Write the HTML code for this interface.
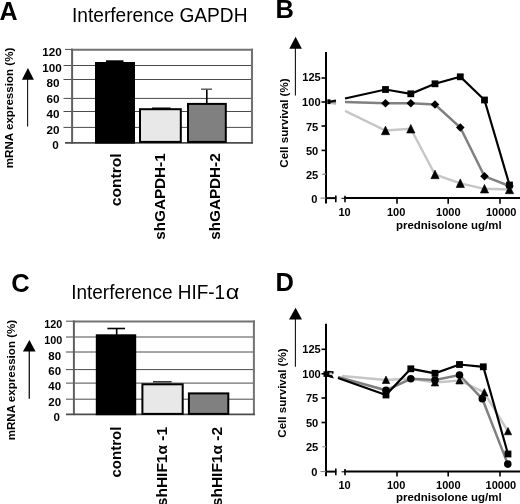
<!DOCTYPE html>
<html><head><meta charset="utf-8"><title>Figure</title>
<style>
html,body{margin:0;padding:0;background:#fff;}
svg{display:block;filter:grayscale(1);}
text{font-family:"Liberation Sans",sans-serif;fill:#000;}
.b{font-weight:bold;}
.tk{font-weight:bold;font-size:11.1px;text-anchor:end;}
.tx{font-weight:bold;font-size:11px;text-anchor:middle;}
</style></head><body>
<svg width="520" height="504" viewBox="0 0 520 504">
<rect width="520" height="504" fill="#fff"/>

<!-- ================= Panel A ================= -->
<text class="b" x="-0.4" y="19.9" font-size="25">A</text>
<text x="72" y="22.3" font-size="20" textLength="175.5" lengthAdjust="spacingAndGlyphs">Interference GAPDH</text>
<g stroke="#4c4c4c" stroke-width="1" fill="none">
  <line x1="63.5" y1="65.5" x2="252.5" y2="65.5"/>
  <line x1="63.5" y1="79.5" x2="252.5" y2="79.5"/>
  <line x1="63.5" y1="98.4" x2="252.5" y2="98.4"/>
  <line x1="63.5" y1="111.5" x2="252.5" y2="111.5"/>
  <line x1="63.5" y1="127.4" x2="252.5" y2="127.4"/>
</g>
<g fill="none">
  <line x1="71.1" y1="49.7" x2="253" y2="49.7" stroke="#727272" stroke-width="2"/>
  <line x1="65" y1="49.4" x2="72" y2="49.4" stroke="#4c4c4c" stroke-width="1"/>
  <line x1="252" y1="48.7" x2="252" y2="143.6" stroke="#727272" stroke-width="2.1"/>
  <line x1="72.1" y1="48.7" x2="72.1" y2="143.6" stroke="#606060" stroke-width="2"/>
  <line x1="65" y1="142.8" x2="253" y2="142.8" stroke="#4c4c4c" stroke-width="1.8"/>
</g>
<g class="tk" style="font-size:11.7px">
  <text x="61.8" y="56.4">120</text>
  <text x="61.8" y="71.7">100</text>
  <text x="59.4" y="87.4">80</text>
  <text x="59.4" y="102.8">60</text>
  <text x="59.4" y="118.2">40</text>
  <text x="59.4" y="134.1">20</text>
  <text x="58.7" y="149.1">0</text>
</g>
<!-- bars -->
<rect x="95" y="62" width="40" height="81.6" fill="#000"/>
<rect x="106" y="60.3" width="17.5" height="2" fill="#000"/>
<rect x="140" y="109.2" width="40.8" height="32.7" fill="#e8e8e8" stroke="#000" stroke-width="2"/>
<rect x="152" y="107.5" width="18.6" height="1.4" fill="#000"/>
<rect x="188" y="103.9" width="37.8" height="38" fill="#808080" stroke="#000" stroke-width="2"/>
<line x1="206.8" y1="89" x2="206.8" y2="104" stroke="#000" stroke-width="1.6"/>
<line x1="201" y1="89.2" x2="212" y2="89.2" stroke="#555" stroke-width="1.4"/>
<!-- x labels -->
<text class="b" font-size="14.5" text-anchor="end" transform="translate(121.3,153.3) rotate(-90)" textLength="53" lengthAdjust="spacingAndGlyphs">control</text>
<text class="b" font-size="14.5" text-anchor="end" transform="translate(165.2,153.3) rotate(-90)" textLength="86.5" lengthAdjust="spacingAndGlyphs">shGAPDH-1</text>
<text class="b" font-size="14.5" text-anchor="end" transform="translate(220.2,153.3) rotate(-90)" textLength="86.5" lengthAdjust="spacingAndGlyphs">shGAPDH-2</text>
<!-- y label + arrow -->
<text class="b" font-size="10.6" transform="translate(13.2,168.2) rotate(-90)" textLength="120.5" lengthAdjust="spacingAndGlyphs">mRNA expression (%)</text>
<line x1="27.6" y1="79" x2="27.6" y2="126.6" stroke="#111" stroke-width="1.1"/>
<polygon points="27.9,68 21.9,79.8 33.9,79.8" fill="#000"/>

<!-- ================= Panel C ================= -->
<text class="b" x="11.2" y="291.6" font-size="25.5">C</text>
<text x="71.2" y="298.6" font-size="20" textLength="154" lengthAdjust="spacingAndGlyphs">Interference HIF-1</text>
<text x="225.8" y="298.6" font-size="20" textLength="13.6" lengthAdjust="spacingAndGlyphs">α</text>
<g stroke="#4c4c4c" stroke-width="1" fill="none">
  <line x1="66" y1="337" x2="253.7" y2="337"/>
  <line x1="66" y1="352" x2="253.7" y2="352"/>
  <line x1="66" y1="369.6" x2="253.7" y2="369.6"/>
  <line x1="66" y1="383.1" x2="253.7" y2="383.1"/>
  <line x1="66" y1="399.2" x2="253.7" y2="399.2"/>
</g>
<g fill="none">
  <line x1="72.9" y1="321.5" x2="254.9" y2="321.5" stroke="#727272" stroke-width="2.1"/>
  <line x1="66" y1="321.2" x2="73" y2="321.2" stroke="#4c4c4c" stroke-width="1"/>
  <line x1="253.9" y1="320.5" x2="253.9" y2="415.1" stroke="#727272" stroke-width="2"/>
  <line x1="73.9" y1="320.5" x2="73.9" y2="415.1" stroke="#606060" stroke-width="2"/>
  <line x1="66" y1="414.4" x2="254.9" y2="414.4" stroke="#4c4c4c" stroke-width="1.9"/>
</g>
<g class="tk" style="font-size:11.5px">
  <text x="62.3" y="328.4" style="font-size:10.8px">120</text>
  <text x="62.3" y="343.9" style="font-size:10.8px">100</text>
  <text x="61.1" y="359.5">80</text>
  <text x="61.1" y="375">60</text>
  <text x="61.1" y="390.1">40</text>
  <text x="61.1" y="406">20</text>
  <text x="60" y="420.9">0</text>
</g>
<rect x="95.8" y="334.3" width="40.4" height="80.9" fill="#000"/>
<line x1="116.7" y1="328" x2="116.7" y2="335" stroke="#000" stroke-width="1.6"/>
<line x1="107.4" y1="328.5" x2="125" y2="328.5" stroke="#000" stroke-width="1.6"/>
<rect x="142.4" y="384.3" width="40.3" height="29.6" fill="#e8e8e8" stroke="#000" stroke-width="2"/>
<line x1="153" y1="381.8" x2="171.6" y2="381.8" stroke="#333" stroke-width="1.5"/>
<rect x="188.9" y="393.4" width="39.4" height="20.5" fill="#808080" stroke="#000" stroke-width="2"/>
<text class="b" font-size="14.5" text-anchor="end" transform="translate(121.4,426.6) rotate(-90)" textLength="51" lengthAdjust="spacingAndGlyphs">control</text>
<text class="b" font-size="14.5" text-anchor="end" transform="translate(167,426.9) rotate(-90)" textLength="79.3" lengthAdjust="spacingAndGlyphs">shHIF1α -1</text>
<text class="b" font-size="14.5" text-anchor="end" transform="translate(221.8,426.9) rotate(-90)" textLength="79.3" lengthAdjust="spacingAndGlyphs">shHIF1α -2</text>
<text class="b" font-size="10.6" transform="translate(14.5,440.3) rotate(-90)" textLength="120.5" lengthAdjust="spacingAndGlyphs">mRNA expression (%)</text>
<line x1="29.3" y1="350" x2="29.3" y2="398.8" stroke="#222" stroke-width="1.4"/>
<polygon points="29.4,340 22.9,351.5 35.6,351.5" fill="#000"/>

<!-- ================= Panel B ================= -->
<text class="b" x="275.6" y="17.6" font-size="25.5">B</text>
<text class="b" font-size="10.6" transform="translate(287.5,167.7) rotate(-90)" textLength="89.3" lengthAdjust="spacingAndGlyphs">Cell survival (%)</text>
<line x1="295.4" y1="48" x2="295.4" y2="95.4" stroke="#111" stroke-width="1.1"/>
<polygon points="295.6,36.8 289.3,48.7 301.9,48.7" fill="#000"/>
<g stroke="#000" stroke-width="2" fill="none">
  <line x1="326" y1="52" x2="326" y2="203.5"/>
  <line x1="325.5" y1="198.1" x2="336.3" y2="198.1"/>
  <line x1="344.3" y1="198.1" x2="520" y2="198.1"/>
</g>
<g stroke="#000" stroke-width="1.6" fill="none">
  <line x1="321.5" y1="78" x2="326" y2="78"/>
  <line x1="321.5" y1="102" x2="326" y2="102"/>
  <line x1="321.5" y1="126" x2="326" y2="126"/>
  <line x1="321.5" y1="150.4" x2="326" y2="150.4"/>
  <line x1="322.3" y1="174.2" x2="326" y2="174.2" stroke="#888" stroke-width="1.3"/>
  <line x1="320.5" y1="198.1" x2="326" y2="198.1" stroke="#777" stroke-width="1"/>
  <line x1="335.8" y1="195.4" x2="335.8" y2="202.2"/>
  <line x1="341.5" y1="198.3" x2="345" y2="198.3" stroke-width="1"/>
  <line x1="345" y1="195.8" x2="345" y2="202.2"/>
  <line x1="397" y1="198.1" x2="397" y2="203.8"/>
  <line x1="448.2" y1="198.1" x2="448.2" y2="203.8"/>
  <line x1="500" y1="198.1" x2="500" y2="203.8"/>
</g>
<g class="tk">
  <text x="320.8" y="81.3">125</text>
  <text x="320.6" y="106.3">100</text>
  <text x="318.3" y="130.8">75</text>
  <text x="318.3" y="154.6">50</text>
  <text x="318.3" y="178.6">25</text>
  <text x="317.3" y="203">0</text>
</g>
<g class="tx">
  <text x="344.5" y="215.7">10</text>
  <text x="396.1" y="215.7">100</text>
  <text x="448.3" y="215.7">1000</text>
  <text x="501.2" y="215.7">10000</text>
</g>
<text class="b" font-size="11.3" x="396" y="228.8" textLength="105.6" lengthAdjust="spacingAndGlyphs">prednisolone ug/ml</text>
<!-- series -->
<polyline points="328,102 336,104" fill="none" stroke="#c6c6c6" stroke-width="2.4"/>
<polyline points="345,110.8 385.5,130.5 410.8,128.8 435,174.5 460.3,183.3 484.5,188.8 509.5,189.5" fill="none" stroke="#c6c6c6" stroke-width="2.4"/>
<polyline points="328,102 336,102" fill="none" stroke="#808080" stroke-width="2.4"/>
<polyline points="345,102 385.5,103.3 410.8,103.3 435,104.5 460.3,127.5 484.5,176.3 509.5,186" fill="none" stroke="#808080" stroke-width="2.5"/>
<polyline points="328,102 336,100.5" fill="none" stroke="#000" stroke-width="2"/>
<polyline points="345,98.5 385.5,89.5 410.8,93.8 435,83.8 460.3,76.8 484.5,100 509.5,185" fill="none" stroke="#000" stroke-width="2.2"/>
<g fill="#000">
  <rect x="327.3" y="99.3" width="3.2" height="4.8"/>
  <rect x="382.1" y="86.1" width="6.8" height="6.8"/>
  <rect x="407.4" y="90.4" width="6.8" height="6.8"/>
  <rect x="431.6" y="80.4" width="6.8" height="6.8"/>
  <rect x="456.9" y="73.4" width="6.8" height="6.8"/>
  <rect x="481.1" y="96.6" width="6.8" height="6.8"/>
  <rect x="506.1" y="181.6" width="6.8" height="6.8"/>
  <polygon points="385.5,99.0 389.8,103.3 385.5,107.6 381.2,103.3"/>
  <polygon points="410.8,99.0 415.1,103.3 410.8,107.6 406.5,103.3"/>
  <polygon points="435.0,100.2 439.3,104.5 435.0,108.8 430.7,104.5"/>
  <polygon points="460.3,123.2 464.6,127.5 460.3,131.8 456.0,127.5"/>
  <polygon points="484.5,172.0 488.8,176.3 484.5,180.6 480.2,176.3"/>
  <polygon points="509.5,181.7 513.8,186.0 509.5,190.3 505.2,186.0"/>
  <polygon points="385.5,126.1 389.6,134.7 381.4,134.7" stroke="#000" stroke-width="0.6" stroke-linejoin="round"/>
  <polygon points="410.8,124.4 414.9,133.0 406.7,133.0" stroke="#000" stroke-width="0.6" stroke-linejoin="round"/>
  <polygon points="435.0,170.1 439.1,178.7 430.9,178.7" stroke="#000" stroke-width="0.6" stroke-linejoin="round"/>
  <polygon points="460.3,178.9 464.4,187.5 456.2,187.5" stroke="#000" stroke-width="0.6" stroke-linejoin="round"/>
  <polygon points="484.5,184.4 488.6,193.0 480.4,193.0" stroke="#000" stroke-width="0.6" stroke-linejoin="round"/>
  <polygon points="509.5,185.1 513.6,193.7 505.4,193.7" stroke="#000" stroke-width="0.6" stroke-linejoin="round"/>
</g>

<!-- ================= Panel D ================= -->
<text class="b" x="275.5" y="290.7" font-size="25.5">D</text>
<text class="b" font-size="10.6" transform="translate(286.1,437.7) rotate(-90)" textLength="89.3" lengthAdjust="spacingAndGlyphs">Cell survival (%)</text>
<line x1="295.4" y1="318" x2="295.4" y2="366.8" stroke="#111" stroke-width="1.1"/>
<polygon points="295.6,307.8 289,319.6 302,319.6" fill="#000"/>
<g stroke="#000" stroke-width="2" fill="none">
  <line x1="326" y1="323.8" x2="326" y2="476.3"/>
  <line x1="325.5" y1="471.6" x2="336.3" y2="471.6"/>
  <line x1="344.3" y1="471.6" x2="520" y2="471.6"/>
</g>
<g stroke="#000" stroke-width="1.6" fill="none">
  <line x1="321.5" y1="349.3" x2="326" y2="349.3"/>
  <line x1="321.5" y1="373.8" x2="326" y2="373.8"/>
  <line x1="321.5" y1="398" x2="326" y2="398"/>
  <line x1="321.5" y1="422.5" x2="326" y2="422.5"/>
  <line x1="322.3" y1="446.8" x2="326" y2="446.8" stroke="#999" stroke-width="1.2"/>
  <line x1="320.5" y1="471.6" x2="326" y2="471.6" stroke="#777" stroke-width="1"/>
  <line x1="335.8" y1="468.5" x2="335.8" y2="475.2"/>
  <line x1="341.5" y1="471.8" x2="345" y2="471.8" stroke-width="1"/>
  <line x1="345" y1="469" x2="345" y2="475.2"/>
  <line x1="397" y1="471.6" x2="397" y2="476.6"/>
  <line x1="448.2" y1="471.6" x2="448.2" y2="476.6"/>
  <line x1="500" y1="471.6" x2="500" y2="476.6"/>
</g>
<g class="tk">
  <text x="320.8" y="353.4">125</text>
  <text x="320.8" y="377.8">100</text>
  <text x="318.3" y="402">75</text>
  <text x="318.3" y="426.5">50</text>
  <text x="318.3" y="450.8">25</text>
  <text x="317.3" y="475.9">0</text>
</g>
<g class="tx">
  <text x="344.5" y="488.8">10</text>
  <text x="396.1" y="488.8">100</text>
  <text x="448.3" y="488.8">1000</text>
  <text x="500.9" y="488.8">10000</text>
</g>
<text class="b" font-size="11.3" x="396" y="501.3" textLength="105.6" lengthAdjust="spacingAndGlyphs">prednisolone ug/ml</text>
<!-- series -->
<polyline points="342,376 386,380 410.8,378.5 435,382.5 459.5,380.5 484.3,392.5 508,431.3" fill="none" stroke="#c6c6c6" stroke-width="2.4"/>
<polyline points="338,377 386,390.3 410.8,378.8 435,380 459.5,375 482.3,398.8 507.8,464.1" fill="none" stroke="#808080" stroke-width="2.5"/>
<polyline points="338,378 386,395 410.8,368.8 435,373.3 459.5,364.5 483.3,366.8 508,454" fill="none" stroke="#000" stroke-width="2.2"/>
<g fill="#000">
  <rect x="323.5" y="371.3" width="6" height="5.6"/>
  <polygon points="327.5,370.8 333.6,371.3 333.6,373.4 331.8,374.3 333.9,378.6 330,377.6 327.5,376.6"/>
  <rect x="382.6" y="391.6" width="6.8" height="6.8"/>
  <rect x="407.4" y="365.4" width="6.8" height="6.8"/>
  <rect x="431.6" y="369.9" width="6.8" height="6.8"/>
  <rect x="456.1" y="361.1" width="6.8" height="6.8"/>
  <rect x="479.9" y="363.4" width="6.8" height="6.8"/>
  <rect x="504.6" y="450.6" width="6.8" height="6.8"/>
  <circle cx="386.0" cy="390.3" r="3.8"/>
  <circle cx="410.8" cy="378.8" r="3.8"/>
  <circle cx="435.0" cy="380.0" r="3.8"/>
  <circle cx="459.5" cy="375.0" r="3.8"/>
  <circle cx="482.3" cy="398.8" r="3.8"/>
  <circle cx="507.8" cy="464.1" r="3.8"/>
  <polygon points="386.0,376.1 389.7,383.5 382.3,383.5" stroke="#000" stroke-width="0.6" stroke-linejoin="round"/>
  <polygon points="435.0,378.6 438.7,386.0 431.3,386.0" stroke="#000" stroke-width="0.6" stroke-linejoin="round"/>
  <polygon points="459.5,376.6 463.2,384.0 455.8,384.0" stroke="#000" stroke-width="0.6" stroke-linejoin="round"/>
  <polygon points="484.3,388.6 488.0,396.0 480.6,396.0" stroke="#000" stroke-width="0.6" stroke-linejoin="round"/>
  <polygon points="508.0,427.4 511.7,434.8 504.3,434.8" stroke="#000" stroke-width="0.6" stroke-linejoin="round"/>
</g>
<rect x="329.4" y="372.5" width="2.8" height="2.6" fill="#ccc"/>
</svg>
</body></html>
